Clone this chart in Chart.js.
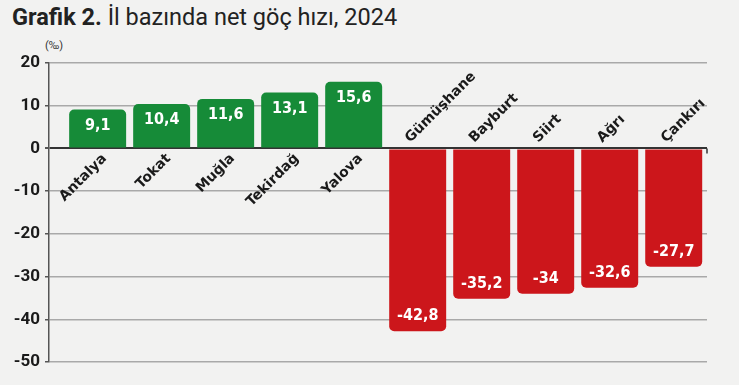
<!DOCTYPE html>
<html>
<head>
<meta charset="utf-8">
<script src="https://cdn.jsdelivr.net/npm/chart.js@4/dist/chart.umd.min.js"></script>
<style>
  html,body{margin:0;padding:0;background:#f2f2f1;}
  #wrap{position:relative;width:739px;height:385px;overflow:hidden;}
  #title{position:absolute;left:12px;top:3px;font-family:Roboto,"Open Sans",sans-serif;font-size:23.5px;color:#222;white-space:nowrap;}
  #title b{font-weight:700;}
  #unit{position:absolute;left:45px;top:39px;font-family:Roboto,sans-serif;font-size:11px;color:#333;}
  canvas{position:absolute;left:0;top:0;}
</style>
</head>
<body>
<div id="wrap">
  <div id="title"><b>Grafik 2.</b> İl bazında net göç hızı, 2024</div>
  <div id="unit">(‰)</div>
  <canvas id="c" width="739" height="385"></canvas>
</div>
<script>
const categories = ["Antalya","Tokat","Muğla","Tekirdağ","Yalova","Gümüşhane","Bayburt","Siirt","Ağrı","Çankırı"];
const values = [9.1,10.4,11.6,13.1,15.6,-42.8,-35.2,-34,-32.6,-27.7];
const valueLabels = ["9,1","10,4","11,6","13,1","15,6","-42,8","-35,2","-34","-32,6","-27,7"];
const yTicks = [20,10,0,-10,-20,-30,-40,-50];

const GREEN = "#168b38", RED = "#cc161b";
const condFont = '"Liberation Sans Narrow","DejaVu Sans Condensed",Roboto,sans-serif';

const labelPlugin = {
  id: 'labelPlugin',
  afterDatasetsDraw(chart) {
    const ctx = chart.ctx;
    const xs = chart.scales.x, ys = chart.scales.y;
    const y0 = ys.getPixelForValue(0);
    ctx.save();
    // small end tick on zero line
    ctx.strokeStyle = '#333';
    ctx.lineWidth = 1.5;
    ctx.beginPath();
    ctx.moveTo(chart.chartArea.right, y0);
    ctx.lineTo(chart.chartArea.right, y0 + 5);
    ctx.stroke();
    values.forEach((v, i) => {
      const cx = xs.getPixelForValue(i);
      const yv = ys.getPixelForValue(v);
      ctx.fillStyle = "#fff";
      ctx.font = 'bold 16px ' + condFont;
      ctx.textAlign = 'center';
      ctx.textBaseline = 'middle';
      ctx.fillText(valueLabels[i], cx, v >= 0 ? yv + 16 : yv - 15);
      ctx.fillStyle = "#1a1a1a";
      ctx.font = 'bold 14px "DejaVu Sans",Verdana,sans-serif';
      ctx.save();
      if (v >= 0) {
        ctx.translate(cx + 7, y0 + 8);
        ctx.rotate(-Math.PI / 4);
        ctx.textAlign = 'right';
      } else {
        ctx.translate(cx - 10, y0 - 8);
        ctx.rotate(-Math.PI / 4);
        ctx.textAlign = 'left';
      }
      ctx.textBaseline = 'middle';
      ctx.fillText(categories[i], 0, 0);
      ctx.restore();
    });
    ctx.restore();
  }
};

new Chart(document.getElementById('c'), {
  type: 'bar',
  data: {
    datasets: [{
      data: values.map((v, i) => ({x: i, y: v})),
      backgroundColor: values.map(v => v >= 0 ? GREEN : RED),
      borderRadius: 5,
      borderSkipped: 'start',
      barPercentage: 0.89,
      categoryPercentage: 1.0
    }]
  },
  options: {
    responsive: false,
    animation: false,
    events: [],
    layout: {padding: {top: 63, left: 0, right: 32, bottom: 23}},
    plugins: {legend: {display: false}, tooltip: {enabled: false}},
    scales: {
      x: {
        type: 'linear',
        offset: false,
        min: -0.76, max: 9.52,
        display: true,
        grid: {display: false, drawTicks: false},
        border: {display: false},
        ticks: {display: false}
      },
      y: {
        min: -50, max: 20,
        afterBuildTicks(scale) { scale.ticks = yTicks.map(v => ({value: v})); },
        afterFit(scale) { scale.width = 49; },
        grid: {
          color: ctx => ctx.tick && ctx.tick.value === 0 ? '#333' : '#a9a9a9',
          lineWidth: ctx => ctx.tick && ctx.tick.value === 0 ? 2 : 1.5,
          drawTicks: true, tickLength: 4, tickColor: '#555'
        },
        border: {display: true, color: '#555', width: 1.5},
        ticks: {
          color: '#1a1a1a',
          font: {family: 'Roboto', weight: 'bold', size: 17},
          padding: 5
        }
      }
    }
  },
  plugins: [labelPlugin]
});
</script>
</body>
</html>
